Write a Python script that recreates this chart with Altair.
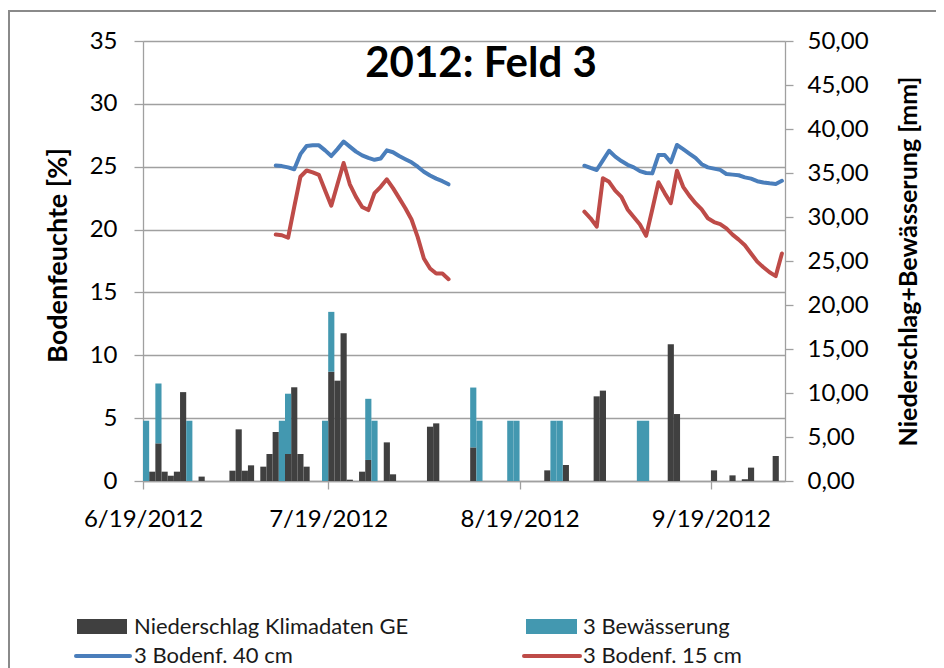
import altair as alt
import pandas as pd

# ---------------- data ----------------
rain_dates = ["2012-06-20", "2012-06-21", "2012-06-22", "2012-06-23", "2012-06-24",
              "2012-06-25", "2012-06-28", "2012-07-03", "2012-07-04", "2012-07-05",
              "2012-07-06", "2012-07-08", "2012-07-09", "2012-07-10", "2012-07-12",
              "2012-07-13", "2012-07-14", "2012-07-15", "2012-07-19", "2012-07-20",
              "2012-07-21", "2012-07-22", "2012-07-24", "2012-07-25", "2012-07-28",
              "2012-07-29", "2012-08-04", "2012-08-05", "2012-08-11", "2012-08-23",
              "2012-08-26", "2012-08-31", "2012-09-01", "2012-09-12", "2012-09-13",
              "2012-09-19", "2012-09-22", "2012-09-24", "2012-09-25", "2012-09-29"]
rain_mm = [1.06, 4.28, 1.06, 0.6, 1.06,
           10.1, 0.5, 1.17, 5.87, 1.17,
           1.78, 1.63, 3.07, 5.57, 3.07,
           10.65, 3.07, 1.63, 12.42, 11.4,
           16.8, 0.15, 1.06, 2.39, 4.39,
           0.76, 6.17, 6.55, 3.82, 1.21,
           1.82, 9.62, 10.27, 15.53, 7.61,
           1.21, 0.64, 0.2, 1.52, 2.84]

irr_dates = ["2012-06-19", "2012-06-21", "2012-06-26", "2012-07-11", "2012-07-12",
             "2012-07-18", "2012-07-19", "2012-07-25", "2012-07-26", "2012-08-11",
             "2012-08-12", "2012-08-17", "2012-08-18", "2012-08-24", "2012-08-25",
             "2012-09-07", "2012-09-08"]
irr_mm = [6.85, 6.8, 6.85, 6.85, 6.85,
          6.85, 6.8, 6.95, 6.85, 6.8,
          6.85, 6.85, 6.85, 6.85, 6.85,
          6.85, 6.85]

seg1_start = "2012-07-10"
seg2_start = "2012-08-29"
blue_seg1 = [25.1, 25.05, 24.95, 24.8, 26.0, 26.65, 26.7, 26.7, 26.3, 25.85,
             26.4, 27.0, 26.6, 26.2, 25.9, 25.7, 25.55, 25.65, 26.3, 26.15,
             25.85, 25.6, 25.35, 25.0, 24.6, 24.3, 24.05, 23.85, 23.6]
red_seg1 = [19.6, 19.55, 19.35, 21.8, 24.2, 24.7, 24.55, 24.35, 23.1, 21.9,
            23.6, 25.3, 23.6, 22.6, 21.8, 21.55, 22.9, 23.4, 24.0, 23.3,
            22.5, 21.7, 20.8, 19.4, 17.7, 16.9, 16.5, 16.5, 16.05]
blue_seg2 = [25.08, 24.9, 24.74, 25.5, 26.27, 25.8, 25.45, 25.15, 24.95, 24.65,
             24.5, 24.47, 25.93, 25.93, 25.35, 26.73, 26.4, 26.05, 25.7, 25.2,
             24.95, 24.85, 24.75, 24.42, 24.37, 24.32, 24.15, 24.05, 23.85, 23.75,
             23.68, 23.63, 23.88]
red_seg2 = [21.42, 20.9, 20.23, 24.08, 23.8, 23.1, 22.6, 21.6, 21.0, 20.4,
            19.5, 21.6, 23.76, 22.9, 22.1, 24.68, 23.4, 22.7, 22.1, 21.6,
            20.9, 20.6, 20.44, 20.1, 19.6, 19.2, 18.75, 18.1, 17.45, 17.0,
            16.6, 16.3, 18.1]

series_names = ["Niederschlag Klimadaten GE", "3 Bewässerung", "3 Bodenf. 40 cm", "3 Bodenf. 15 cm"]
series_colors = ["#404040", "#4398B0", "#4A7EBB", "#BE4B48"]
x_tick_months = [6, 7, 8, 9]
left_ticks = [0, 5, 10, 15, 20, 25, 30, 35]
right_ticks = [0, 5, 10, 15, 20, 25, 30, 35, 40, 45, 50]

# ---------------- tables ----------------
def day_end(d):
    return (pd.Timestamp(d) + pd.Timedelta(days=1)).strftime("%Y-%m-%dT00:00:00")

rain_lookup = dict(zip(rain_dates, rain_mm))
bar_rows = []
for d, v in zip(rain_dates, rain_mm):
    bar_rows.append(dict(date=d + "T00:00:00", end=day_end(d), series=series_names[0], y0=0.0, y1=v))
for d, v in zip(irr_dates, irr_mm):
    base = rain_lookup.get(d, 0.0)
    bar_rows.append(dict(date=d + "T00:00:00", end=day_end(d), series=series_names[1], y0=base, y1=base + v))
bars_df = pd.DataFrame(bar_rows)

line_rows = []
for name, seg, start, vals in [(series_names[2], "a", seg1_start, blue_seg1),
                               (series_names[2], "b", seg2_start, blue_seg2),
                               (series_names[3], "a", seg1_start, red_seg1),
                               (series_names[3], "b", seg2_start, red_seg2)]:
    for i, v in enumerate(vals):
        t = pd.Timestamp(start) + pd.Timedelta(days=i, hours=12)
        line_rows.append(dict(t=t.strftime("%Y-%m-%dT%H:%M:%S"), series=name, seg=name + seg, v=v))
lines_df = pd.DataFrame(line_rows)

GRAY = "#a0a0a0"
FONT = "Lato"

x_scale = alt.Scale(domain=[alt.DateTime(year=2012, month=6, date=19),
                            alt.DateTime(year=2012, month=10, date=1)])
x_axis = alt.Axis(values=[alt.DateTime(year=2012, month=m, date=19) for m in x_tick_months],
                  format="%-m/%-d/%Y", title=None, grid=False, labelFlush=False, labelOverlap=False,
                  labelFont=FONT, labelFontSize=24, labelColor="black", labelPadding=18,
                  tickSize=8, tickColor=GRAY, domainColor=GRAY, domainWidth=1.3, tickWidth=1.3)
color_scale = alt.Scale(domain=series_names, range=series_colors)

lines = alt.Chart(lines_df).mark_line(strokeWidth=4, strokeJoin="round", strokeCap="round").encode(
    x=alt.X("t:T", scale=x_scale, axis=x_axis),
    y=alt.Y("v:Q", scale=alt.Scale(domain=[0, 35]),
            axis=alt.Axis(orient="left", values=left_ticks, title="Bodenfeuchte [%]",
                          titleFont=FONT, titleFontSize=27, titleFontWeight="bold", titleColor="black",
                          titleAngle=270, titleX=-85, titleY=214, titleAlign="center", titleBaseline="middle",
                          labelFont=FONT, labelFontSize=24, labelColor="black", labelPadding=17,
                          tickSize=9, tickColor=GRAY, tickWidth=1.3, domainColor=GRAY, domainWidth=1.3,
                          grid=True, gridColor=GRAY, gridWidth=1.3)),
    color=alt.Color("series:N", scale=color_scale, legend=None),
    detail="seg:N",
)

bars = alt.Chart(bars_df).mark_bar().encode(
    x=alt.X("date:T", scale=x_scale, axis=x_axis),
    x2="end:T",
    y=alt.Y("y0:Q", scale=alt.Scale(domain=[0, 50]),
            axis=alt.Axis(orient="right", values=right_ticks,
                          labelExpr="replace(format(datum.value, '.2f'), '.', ',')",
                          title="Niederschlag+Bewässerung [mm]",
                          titleFont=FONT, titleFontSize=25, titleFontWeight="bold", titleColor="black",
                          titleAngle=270, titleX=123, titleY=220, titleAlign="center", titleBaseline="middle",
                          labelFont=FONT, labelFontSize=24, labelColor="black", labelPadding=14,
                          tickSize=8, tickColor=GRAY, tickWidth=1.3, domainColor=GRAY, domainWidth=1.3,
                          grid=False)),
    y2="y1:Q",
    color=alt.Color("series:N", scale=color_scale, legend=None),
)

one = pd.DataFrame({"k": [0]})

frame = alt.Chart(one).mark_rect(fillOpacity=0, stroke="#8a8a8a", strokeWidth=2).encode(
    x=alt.value(-134), x2=alt.value(820), y=alt.value(-30), y2=alt.value(720))

title = alt.Chart(one).mark_text(text="2012: Feld 3", font=FONT, fontSize=42, fontWeight="bold",
                                 align="center", baseline="alphabetic", color="black").encode(
    x=alt.value(338), y=alt.value(36))

def legend_rect(i, x0, x1, y0, y1):
    return alt.Chart(one).mark_rect(color=series_colors[i]).encode(
        x=alt.value(x0), x2=alt.value(x1), y=alt.value(y0), y2=alt.value(y1))

def legend_line(i, x0, x1, y):
    return alt.Chart(one).mark_rule(color=series_colors[i], strokeWidth=4, strokeCap="round").encode(
        x=alt.value(x0), x2=alt.value(x1), y=alt.value(y))

def legend_text(i, x, y):
    return alt.Chart(one).mark_text(text=series_names[i], font=FONT, fontSize=22, align="left",
                                    baseline="alphabetic", color="#1a1a1a").encode(
        x=alt.value(x), y=alt.value(y))

legend = [
    legend_rect(0, -66, -16, 578, 593), legend_text(0, -9, 593),
    legend_rect(1, 383, 434, 578, 593), legend_text(1, 440, 593),
    legend_line(2, -67, -13, 615), legend_text(2, -9, 622),
    legend_line(3, 381, 437, 615), legend_text(3, 440, 622),
]

chart = alt.layer(frame, lines, bars, title, *legend).resolve_scale(
    y="independent", color="shared"
).properties(
    width=642, height=440,
    padding={"left": 135, "top": 33, "right": 151, "bottom": 187},
    autosize=alt.AutoSizeParams(type="none"),
).configure_view(stroke="transparent").configure(font=FONT)

chart.save("out.html", embed_options={"renderer": "svg", "actions": False})
